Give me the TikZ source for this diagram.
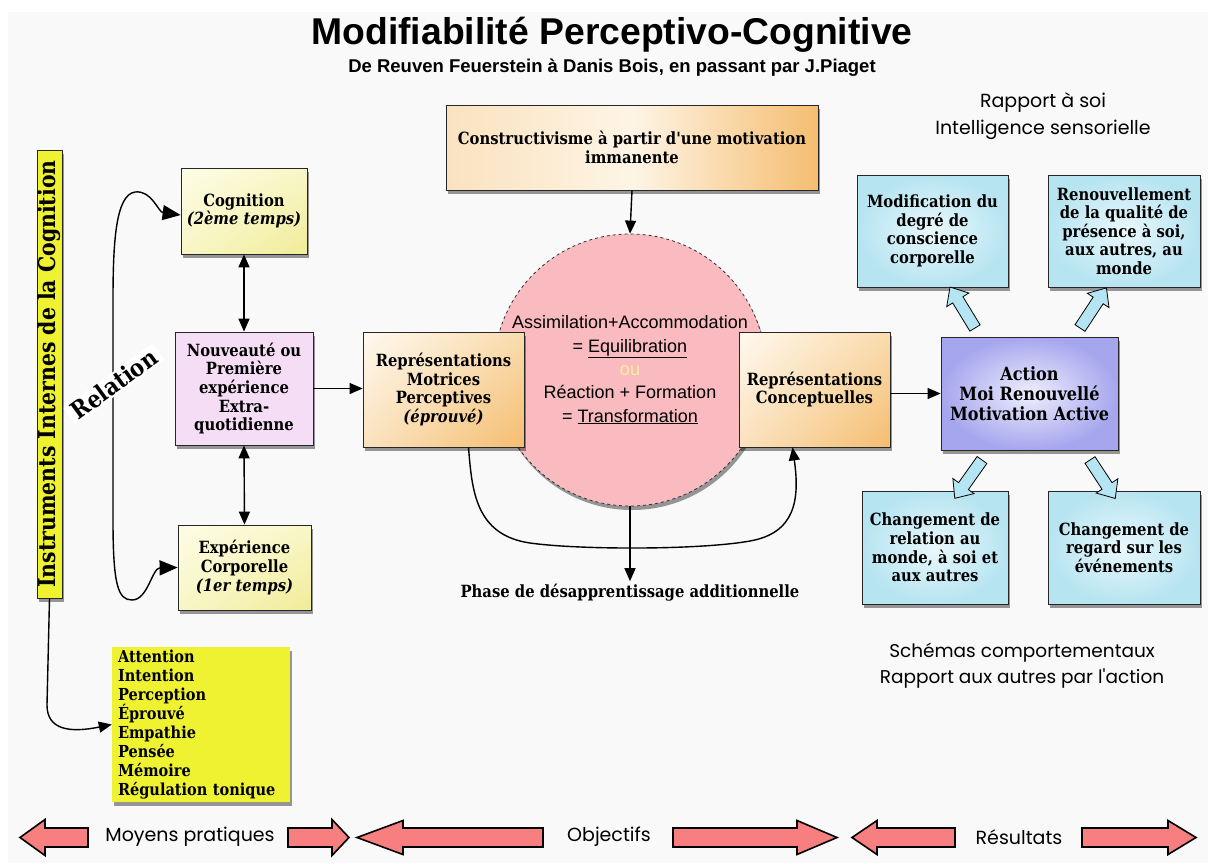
\documentclass[tikz,border=0pt]{standalone}
\usepackage{fontspec}
\setmainfont{Liberation Sans}
\newfontfamily\bx{DejaVu Serif}[FakeStretch=0.88]
\newfontfamily\cm{Poppins}
\usetikzlibrary{shapes.geometric,shadows,shadings,arrows.meta,calc}
\definecolor{bg}{HTML}{F9F9F9}
\definecolor{yelA}{HTML}{FDFDE6}
\definecolor{yelB}{HTML}{F1EC98}
\definecolor{pinkbox}{HTML}{F5DEF5}
\definecolor{orA}{HTML}{FFF9F0}
\definecolor{orB}{HTML}{F5BD70}
\definecolor{orC}{HTML}{F9DCAE}
\definecolor{orD}{HTML}{FAE2BE}
\definecolor{cyA}{HTML}{EAF8FC}
\definecolor{cyB}{HTML}{B6E4F1}
\definecolor{laA}{HTML}{EEEEFE}
\definecolor{laB}{HTML}{A6A6EE}
\definecolor{circfill}{HTML}{F9BBBF}
\definecolor{ouc}{HTML}{F5F09A}
\definecolor{brightyel}{HTML}{EEF230}
\definecolor{redarr}{HTML}{F77F80}
\definecolor{fatcy}{HTML}{B5E5F2}
\tikzset{
  shad/.style={drop shadow={shadow xshift=2pt,shadow yshift=-4pt,opacity=0.4,fill=black}},
  box/.style={draw=black!85, line width=0.8pt, align=center, inner sep=2pt, shad,
    font=\bx\bfseries\fontsize{16.8}{18.6}\selectfont},
  yelbox/.style={box, upper left=yelA, upper right=yelA!60!yelB, lower left=yelA!60!yelB, lower right=yelB},
  orbox/.style={box, upper left=orA, upper right=orC, lower left=orD, lower right=orB},
  cybox/.style={box, inner color=cyA, outer color=cyB},
  arr/.style={line width=1.4pt, -{Triangle[length=13pt,width=11pt]}},
  darr/.style={line width=1.4pt, {Triangle[length=13pt,width=11pt]}-{Triangle[length=13pt,width=11pt]}},
  bigarr/.style={line width=1.4pt, {Triangle[length=18pt,width=15pt]}-{Triangle[length=18pt,width=15pt]}},
  comic/.style={font=\cm\fontsize{19}{27}\selectfont, align=center},
  pics/fatarr/.style n args={4}{code={
    \path[pic actions] (0,-#2) -- ({#1-#4},-#2) -- ({#1-#4},-#3) -- (#1,0)
      -- ({#1-#4},#3) -- ({#1-#4},#2) -- (0,#2) -- cycle;}},
  cyarrow/.style={draw=black, line width=0.8pt, fill=fatcy},
  redarrow/.style={draw=black, line width=1.6pt, fill=redarr, shad}
}
\begin{document}
\begin{tikzpicture}[x=1pt,y=-1pt]
\useasboundingbox (0,0) rectangle (1208,863);
\fill[white] (0,0) rectangle (1208,863);
\fill[bg] (8,12) rectangle (1208,863);

% titles
\node[font=\bfseries\fontsize{37.3}{40}\selectfont] (title) at (612,35) {Modifiabilité Perceptivo-Cognitive};
\node[font=\bfseries\fontsize{18.5}{20}\selectfont] (subtitle) at (612,68) {De Reuven Feuerstein à Danis Bois, en passant par J.Piaget};

% left column
\node[draw=black!85, line width=0.8pt, fill=brightyel, minimum width=25, minimum height=448, inner sep=0, shad] (bar) at (49.5,374) {};
\node[rotate=90, font=\bx\bfseries\fontsize{23.2}{24}\selectfont] (bartext) at (bar.center) {Instruments Internes de la Cognition};

\node[yelbox, minimum width=126, minimum height=86] (cog) at (244,211) {Cognition\\\textit{(2ème temps)}};
\node[box, fill=pinkbox, minimum width=138, minimum height=113] (nouv) at (244,388.5) {Nouveauté ou\\Première\\expérience\\Extra-\\quotidienne};
\node[yelbox, minimum width=133, minimum height=85] (exp) at (244.5,567.5) {Expérience\\Corporelle\\\textit{(1er temps)}};

\draw[darr] (cog.south) -- (nouv.north);
\draw[darr] (nouv.south) -- (exp.north);

\draw[bigarr] ([yshift=-4pt]cog.west) .. controls (158,212) and (152,190) .. (135,192)
  .. controls (116,195) and (113,240) .. (113,300) -- (113,520)
  .. controls (113,585) and (118,600) .. (132,600)
  .. controls (148,600) and (152,568) .. (exp.west);
\node[fill=white, rotate=36, inner xsep=5pt, inner ysep=1pt, font=\bx\bfseries\fontsize{24}{25}\selectfont] (rel) at (114,384) {Relation};

\node[fill=brightyel, minimum width=178, minimum height=151, text width=166, inner xsep=6pt, align=left, shad,
  font=\bx\bfseries\fontsize{16.5}{18.9}\selectfont] (list) at (201,724.5)
  {Attention\\Intention\\Perception\\Éprouvé\\Empathie\\Pensée\\Mémoire\\Régulation tonique};
\draw[arr] (bar.south) -- (47,705) .. controls (47,730) and (70,733) .. (list.west);

% centre
\node[circle, minimum size=272, fill=circfill, draw=black!80, dashed, line width=0.8pt, shad, align=center,
  font=\fontsize{18}{23.3}\selectfont] (circ) at (630,370)
  {Assimilation+Accommodation\\= \underline{Equilibration}\\\textcolor{ouc}{ou}\\Réaction + Formation\\= \underline{Transformation}};

\node[box, left color=orD, right color=orB, middle color=orA!80!orD, minimum width=372, minimum height=85,
  font=\bx\bfseries\fontsize{16.8}{19}\selectfont] (cons) at (632,147.5)
  {Constructivisme à partir d'une motivation\\immanente};
\node[orbox, minimum width=161, minimum height=115] (rmp) at (443.5,389.5)
  {Représentations\\Motrices\\Perceptives\\\textit{(éprouvé)}};
\node[orbox, minimum width=151, minimum height=115] (rc) at (814.5,389.5)
  {Représentations\\Conceptuelles};

\draw[arr] (nouv.east) -- (nouv.east -| rmp.west);
\draw[arr] (cons.south) -- (circ.north);

\node[font=\bx\bfseries\fontsize{16.8}{18}\selectfont, inner sep=3pt] (phase) at (630,593) {Phase de désapprentissage additionnelle};
\draw[arr] (circ.south) -- (phase.north);
\draw[arr] ($(rmp.south)+(25,0)$) .. controls (472,490) and (475,535) .. (530,543)
  .. controls (580,550) and (700,550) .. (750,541)
  .. controls (795,533) and (800,500) .. ($(rc.south)+(-22,0)$);

% right part
\node[box, inner color=laA, outer color=laB, minimum width=177, minimum height=113,
  font=\bx\bfseries\fontsize{18.3}{20}\selectfont] (act) at (1029.5,393.5)
  {Action\\Moi Renouvellé\\Motivation Active};
\draw[arr] (rc.east |- act.west) -- (act.west);

\node[cybox, minimum width=151, minimum height=112] (mod) at (932.5,231)
  {Modification du\\degré de\\conscience\\corporelle};
\node[cybox, minimum width=152, minimum height=112] (ren) at (1124,231)
  {Renouvellement\\de la qualité de\\présence à soi,\\aux autres, au\\monde};
\node[cybox, minimum width=146, minimum height=113] (chr) at (935,547.5)
  {Changement de\\relation au\\monde, à soi et\\aux autres};
\node[cybox, minimum width=152, minimum height=113] (chg) at (1124,547.5)
  {Changement de\\regard sur les\\événements};

\pic[cyarrow, rotate=121.4] at (975,328) {fatarr={48}{6}{13}{15}};
\pic[cyarrow, rotate=56.6] at (1080,328) {fatarr={48}{6}{13}{15}};
\pic[cyarrow, rotate=-125.4] at (982,460) {fatarr={47}{6}{13}{15}};
\pic[cyarrow, rotate=-56.7] at (1090,460) {fatarr={46}{6}{13}{15}};

\node[comic] (rap) at (1043,116) {Rapport à soi\\Intelligence sensorielle};
\node[comic, font=\cm\fontsize{18.5}{26}\selectfont] (sch) at (1022,666) {Schémas comportementaux\\Rapport aux autres par l'action};

% bottom band
\pic[redarrow, rotate=180] at (88,837.5) {fatarr={68}{9.5}{18}{25}};
\pic[redarrow] at (288,837.5) {fatarr={61}{9.5}{18}{17}};
\pic[redarrow, rotate=180] at (543,837.5) {fatarr={186}{9.5}{17}{46}};
\pic[redarrow] at (673,837.5) {fatarr={164}{9.5}{17}{40}};
\pic[redarrow, rotate=180] at (955,837.5) {fatarr={103}{9.5}{17}{25}};
\pic[redarrow] at (1082,837.5) {fatarr={114}{9.5}{17}{28}};
\node[comic] (moy) at (190,837) {Moyens pratiques};
\node[comic] (obj) at (609,837) {Objectifs};
\node[comic] (res) at (1019,837) {Résultats};
\end{tikzpicture}
\end{document}
